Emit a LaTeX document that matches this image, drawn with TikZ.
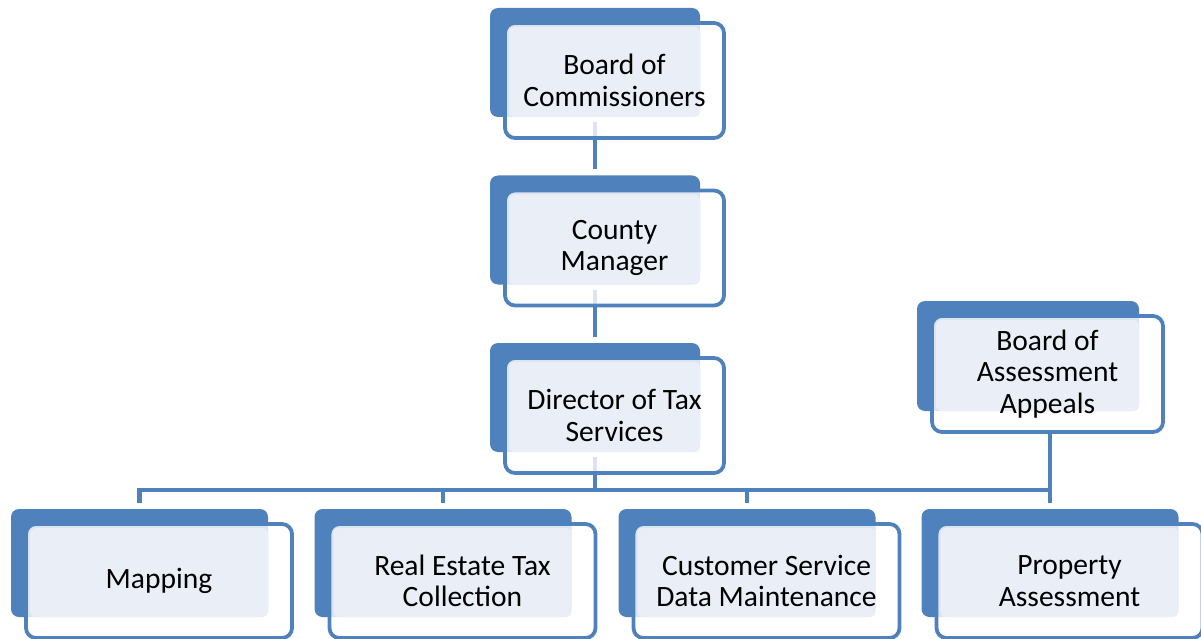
\documentclass[tikz,border=0pt]{standalone}
\usepackage{fontspec}
\setmainfont{Carlito}
\usetikzlibrary{calc}
\definecolor{orgblue}{RGB}{79,129,189}
\definecolor{orgfill}{RGB}{234,239,247}
\pgfdeclarelayer{background}
\pgfsetlayers{background,main}
\tikzset{
    backbox/.style={
        fill=orgblue, rounded corners=1.6mm, inner sep=0pt, outer sep=0pt
    },
    frontbox/.style={
        draw=orgblue, line width=0.75mm, fill=white, fill opacity=0.8,
        rounded corners=2mm, inner sep=0pt, outer sep=0pt
    },
    lab/.style={
        font=\fontsize{16.8}{18}\selectfont, align=center, text=black
    },
    link/.style={
        draw=orgblue, line width=0.9mm
    }
}
% #1 name, #2 centre of the back box, #3 width, #4 height (pixels), #5 text
\newcommand{\orgunit}[5]{%
    \node[backbox, minimum width=#3*0.2mm, minimum height=#4*0.2mm] (#1-b) at (#2) {};
    \node[frontbox, minimum width=(#3+9)*0.2mm, minimum height=(#4+6)*0.2mm] (#1) at ($(#1-b.center)+(19.5,18)$) {};
    \fill[orgfill, rounded corners=1mm] ($(#1.north west)+(4,4)$) rectangle (#1-b.south east);
    \node[lab] (#1-t) at (#1.center) {#5};
}

\begin{document}
\begin{tikzpicture}[x=0.2mm,y=-0.2mm]

% --- page (pixels of the reference) ---
    \useasboundingbox (0,0) rectangle (1201,639);
    \coordinate (bus) at (0,490);

% top chain
    \orgunit{bcc}{595,62.5}{210}{109}{Board of\\Commissioners}
    \orgunit{cm}{595,230}{210}{109}{County\\Manager}
    \orgunit{dts}{595,397.5}{210}{109}{Director of Tax\\Services}

% appeals board (right)
    \orgunit{baa}{1028,356}{222}{110}{Board of\\Assessment\\Appeals}

% divisions
    \orgunit{map}{139.5,563}{257}{108}{Mapping}
    \orgunit{ret}{443,563}{257}{108}{Real Estate Tax\\Collection}
    \orgunit{csd}{747,563}{257}{108}{Customer Service\\Data Maintenance}
    \orgunit{pa}{1050,563}{257}{108}{Property\\Assessment}

% connectors (behind the boxes)
    \begin{pgfonlayer}{background}
    \draw[link] ($(bcc-b.south)+(0,5)$) -- ($(cm-b.north)+(0,-6)$);
    \draw[link] ($(cm-b.south)+(0,5)$) -- ($(dts-b.north)+(0,-6)$);
    \draw[link] ($(dts-b.south)+(0,5)$) -- (dts-b.south |- bus);
    \draw[link] ($(map-b.north)+(0,-6)$) -- (map-b.north |- bus) -- (pa-b.north |- bus);
    \draw[link] ($(ret-b.north)+(0,-6)$) -- (ret-b.north |- bus);
    \draw[link] ($(csd-b.north)+(0,-6)$) -- (csd-b.north |- bus);
    \draw[link] (pa-b.north |- baa.south) -- ($(pa-b.north)+(0,-6)$);
    \end{pgfonlayer}

\end{tikzpicture}
\end{document}
